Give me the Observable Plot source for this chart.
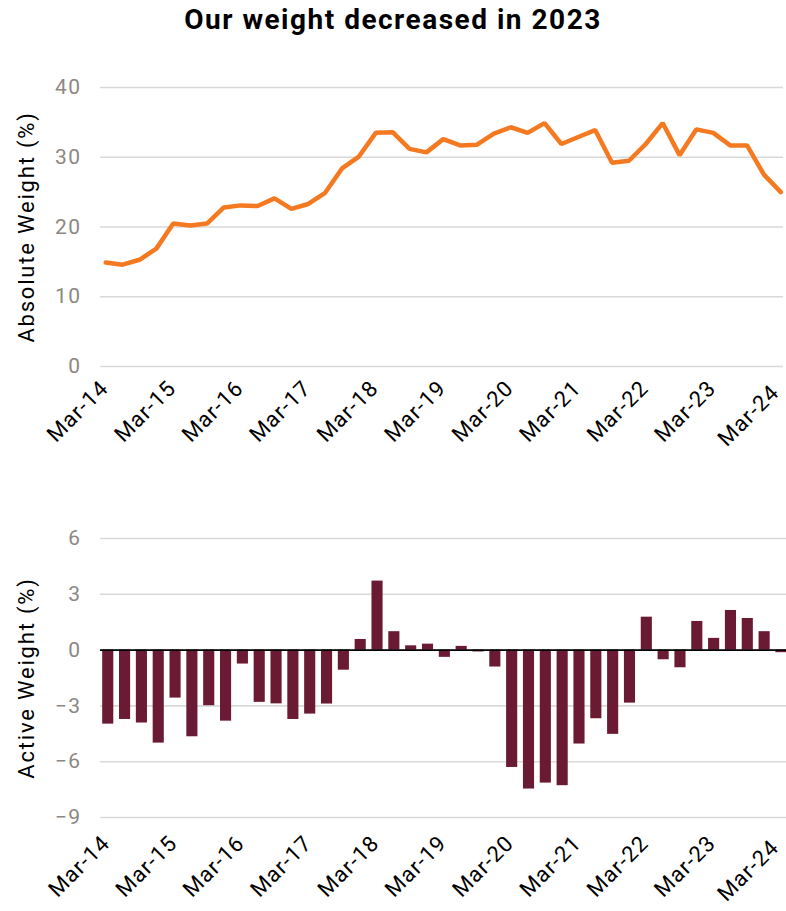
<!DOCTYPE html>
<html>
<head>
<meta charset="utf-8">
<script src="https://cdn.jsdelivr.net/npm/d3@7"></script>
<script src="https://cdn.jsdelivr.net/npm/@observablehq/plot@0.6"></script>
<style>
  html, body { margin: 0; padding: 0; background: #fff; }
  body { width: 786px; height: 911px; overflow: hidden; font-family: Roboto, "DejaVu Sans", sans-serif; }
  #title { height: 45px; line-height: 40px; text-align: center; font-weight: 700; font-size: 28px; letter-spacing: 1.5px; color: #000; }
  svg { display: block; }
  svg g[aria-label="x-axis tick label"] { font-size: 22px !important; letter-spacing: 1.1px; }
  svg g[aria-label="y-axis tick label"] { font-size: 21px !important; letter-spacing: 1.5px; }
  svg g[aria-label="y-axis label"] { font-size: 22px !important; letter-spacing: 1.8px; }
</style>
</head>
<body>
<div id="title">Our weight decreased in 2023</div>
<div id="topChart"></div>
<div id="bottomChart"></div>
<script>
// Quarterly observations, Mar-14 .. Mar-24 (41 quarters)
const tickLabels = ["Mar-14","Mar-15","Mar-16","Mar-17","Mar-18","Mar-19","Mar-20","Mar-21","Mar-22","Mar-23","Mar-24"];
const absoluteWeight = [14.9,14.6,15.3,16.9,20.5,20.2,20.5,22.8,23.1,23.0,
  24.1,22.6,23.3,24.9,28.4,30.1,33.5,33.6,31.2,30.7,
  32.6,31.7,31.8,33.4,34.3,33.5,34.9,31.9,32.9,33.9,
  29.2,29.5,31.9,34.9,30.3,34.0,33.5,31.7,31.7,27.5,25.0];
const activeWeight = [-3.98,-3.73,-3.92,-5.0,-2.58,-4.66,-2.99,-3.82,-0.75,-2.81,
  -2.89,-3.73,-3.44,-2.90,-1.08,0.57,3.71,0.99,0.23,0.32,
  -0.39,0.20,-0.10,-0.91,-6.31,-7.47,-7.15,-7.29,-5.05,-3.69,
  -4.53,-2.85,1.77,-0.52,-0.95,1.54,0.63,2.13,1.70,0.99,-0.14];
const absTicks = [0,10,20,30,40];
const actTicks = [6,3,0,-3,-6,-9];

const absData = absoluteWeight.map((v,i) => ({i, v}));
const actData = activeWeight.map((v,i) => ({i, v}));
const xTicks = tickLabels.map((_,k) => k*4);
const fmtX = i => tickLabels[i/4];

const font = "Roboto, 'DejaVu Sans', sans-serif";
const gridColor = "#d9d9d9";
const tickGray = "#8c8782";

const topPlot = Plot.plot({
  width: 786, height: 445,
  marginLeft: 100, marginRight: 3, marginTop: 42, marginBottom: 124,
  style: {fontFamily: font, background: "white", overflow: "visible"},
  x: {type: "linear", domain: [-0.31, 40.16]},
  y: {domain: [0, 40]},
  marks: [
    Plot.gridY(absTicks, {stroke: gridColor, strokeOpacity: 1, strokeWidth: 1.6}),
    Plot.axisY(absTicks, {tickSize: 0, tickPadding: 19, fontSize: 21, color: tickGray,
      label: "Absolute Weight (%)", labelAnchor: "center", labelArrow: "none", labelOffset: 82}),
    Plot.axisX(xTicks, {tickFormat: fmtX, tickRotate: -45, tickSize: 0, tickPadding: 18, dx: -1, fontSize: 22, color: "#000", label: null}),
    Plot.line(absData, {x: "i", y: "v", stroke: "#f47920", strokeWidth: 4.5, strokeLinejoin: "miter", strokeLinecap: "round"})
  ]
});

const bottomPlot = Plot.plot({
  width: 786, height: 421,
  marginLeft: 100, marginRight: 0, marginTop: 48, marginBottom: 94,
  style: {fontFamily: font, background: "white", overflow: "visible"},
  x: {type: "linear", domain: [-0.46, 40.3]},
  y: {domain: [-9, 6]},
  marks: [
    Plot.gridY(actTicks, {stroke: gridColor, strokeOpacity: 1, strokeWidth: 1.6}),
    Plot.axisY(actTicks, {tickSize: 0, tickPadding: 19, fontSize: 21, color: tickGray,
      label: "Active Weight (%)", labelAnchor: "center", labelArrow: "none", labelOffset: 82}),
    Plot.axisX(xTicks, {tickFormat: fmtX, tickRotate: -45, tickSize: 0, tickPadding: 22, dx: -2, fontSize: 22, color: "#000", label: null}),
    Plot.rectY(actData, {x1: d => d.i - 0.33, x2: d => d.i + 0.33, y1: 0, y2: "v", fill: "#6b1a33"}),
    Plot.ruleY([0], {stroke: "#000", strokeWidth: 1.6})
  ]
});

for (const svg of [topPlot, bottomPlot]) {
  svg.querySelectorAll("[aria-label='y-axis label'] text, [aria-label='y-axis label']").forEach(el => el.setAttribute("fill", "#000"));
  // keep the last (edge) tick label fully inside the page
  const xt = svg.querySelectorAll("[aria-label='x-axis tick label'] text");
  if (xt.length) {
    const last = xt[xt.length - 1];
    last.setAttribute("x", -6);
  }
}
document.getElementById("topChart").appendChild(topPlot);
document.getElementById("bottomChart").appendChild(bottomPlot);
</script>
</body>
</html>
